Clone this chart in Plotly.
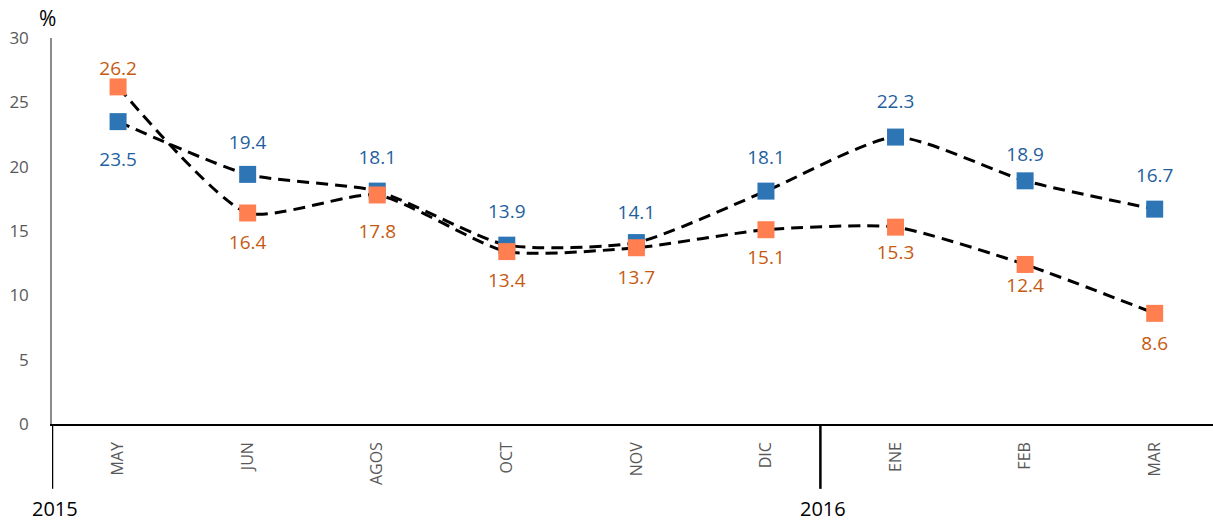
import plotly.graph_objects as go

months = ["MAY", "JUN", "AGOS", "OCT", "NOV", "DIC", "ENE", "FEB", "MAR"]
blue_vals = [23.5, 19.4, 18.1, 13.9, 14.1, 18.1, 22.3, 18.9, 16.7]
orange_vals = [26.2, 16.4, 17.8, 13.4, 13.7, 15.1, 15.3, 12.4, 8.6]
y_ticks = [0, 5, 10, 15, 20, 25, 30]
years = ["2015", "2016"]

# label placement (style only)
blue_pos = ["bottom center"] + ["top center"] * 8
orange_pos = ["top center"] + ["bottom center"] * 8
blue_gap = [47, 32, 34, 34, 28, 34, 38, 22, 34]
orange_gap = [10, 34, 44, 32, 34, 30, 26, 20, 34]

FONT = "'Open Sans', Lato, sans-serif"
xs = list(range(len(months)))

fig = go.Figure()
for vals, col in [(blue_vals, "#2E75B6"), (orange_vals, "#FF7F50")]:
    fig.add_trace(go.Scatter(
        x=xs, y=vals, mode="lines+markers",
        line=dict(color="black", width=3, dash="12px,7px", shape="spline", smoothing=0.6),
        marker=dict(symbol="square", size=17, color=col),
        showlegend=False, hoverinfo="skip",
    ))
# data labels (invisible markers set the label distance from the points)
for vals, pos, gap, tcol in [(blue_vals, blue_pos, blue_gap, "#1F5F9E"),
                             (orange_vals, orange_pos, orange_gap, "#C55A11")]:
    fig.add_trace(go.Scatter(
        x=xs, y=vals, mode="markers+text",
        marker=dict(size=gap, opacity=0),
        text=[f"{v:.1f}" for v in vals], textposition=pos,
        textfont=dict(size=19, color=tcol, family=FONT),
        showlegend=False, cliponaxis=False, hoverinfo="skip",
    ))

fig.update_layout(
    width=1213, height=522,
    margin=dict(l=52, r=0, t=38, b=98),
    paper_bgcolor="white", plot_bgcolor="white",
    font=dict(family=FONT),
    xaxis=dict(
        range=[-0.51, 8.45], tickmode="array", tickvals=xs, ticktext=months,
        tickangle=-90, showgrid=False, zeroline=False, automargin=False,
        showline=True, linecolor="black", linewidth=1.5,
        ticks="outside", ticklen=10, tickcolor="rgba(0,0,0,0)",
        tickfont=dict(size=16, color="#595959", family=FONT),
    ),
    yaxis=dict(
        range=[0, 30], tickmode="array", tickvals=y_ticks,
        showgrid=False, zeroline=False, automargin=False,
        showline=True, linecolor="#8c8c8c", linewidth=1.5,
        ticks="outside", ticklen=18, tickcolor="rgba(0,0,0,0)",
        tickfont=dict(size=17, color="#595959", family=FONT),
    ),
)

# year separators
for xv in [-0.51, 5.42]:
    fig.add_shape(type="line", xref="x", yref="paper", x0=xv, x1=xv, y0=0, y1=-0.168,
                  line=dict(color="black", width=2.5))

fig.add_annotation(x=-0.49, y=-0.218, xref="x", yref="paper", text=years[0], showarrow=False,
                   font=dict(size=20, color="black", family=FONT), xanchor="center", yanchor="middle")
fig.add_annotation(x=5.44, y=-0.218, xref="x", yref="paper", text=years[1], showarrow=False,
                   font=dict(size=20, color="black", family=FONT), xanchor="center", yanchor="middle")
fig.add_annotation(x=-0.004, y=1.052, xref="paper", yref="paper", text="%", showarrow=False,
                   font=dict(size=21, color="black", family=FONT), xanchor="center", yanchor="middle")

fig.write_html("out.html", config={"displayModeBar": False})

# remove the browser's default page margin so the figure sits at the top-left corner
with open("out.html", "r", encoding="utf-8") as f:
    html = f.read()
html = html.replace("<head>", "<head><style>html,body{margin:0;padding:0;overflow:hidden;}</style>", 1)
with open("out.html", "w", encoding="utf-8") as f:
    f.write(html)
